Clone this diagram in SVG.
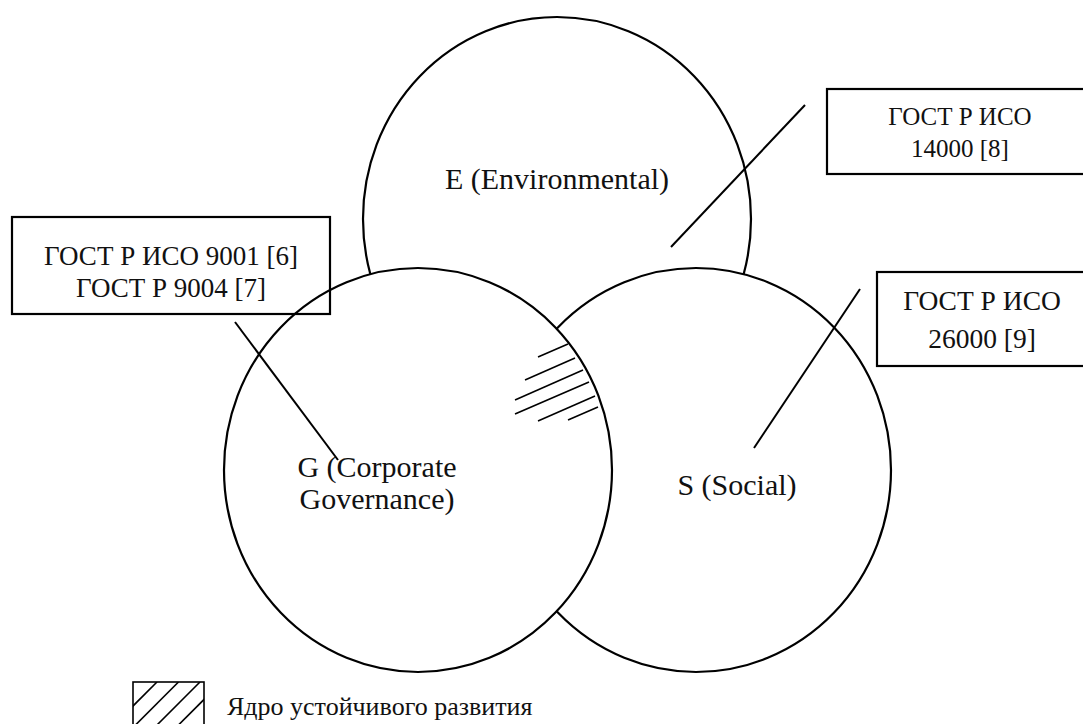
<svg xmlns="http://www.w3.org/2000/svg" width="1083" height="724" viewBox="0 0 1083 724" font-family="'Liberation Serif', 'Times New Roman', serif">
<style>
.c{fill:#fff;stroke:#000;stroke-width:2.2}
.b{fill:none;stroke:#000;stroke-width:2.2}
.l{stroke:#000;stroke-width:2;fill:none}
.h{stroke:#000;stroke-width:1.6;fill:none}
text{font-family:'Liberation Serif','Times New Roman',serif;fill:#111;text-anchor:middle}
</style>
<defs>
<clipPath id="lg"><rect x="133" y="682" width="71" height="60"/></clipPath>
</defs>
<rect width="1083" height="724" fill="#fff"/>
<g id="node-E">
<ellipse class="c" cx="557" cy="219" rx="194" ry="202"/>
<text x="557" y="189" font-size="30" font-family="Liberation Serif">E (Environmental)</text>
</g>
<g id="node-S">
<ellipse class="c" cx="696" cy="470" rx="195" ry="202"/>
<text x="737" y="495" font-size="30" font-family="Liberation Serif">S (Social)</text>
</g>
<g id="node-G">
<ellipse class="c" cx="418" cy="470" rx="194" ry="202"/>
<text x="377" y="477" font-size="30" font-family="Liberation Serif">G (Corporate</text>
<text x="377" y="509" font-size="30" font-family="Liberation Serif">Governance)</text>
</g>
<g id="core-hatch">
<line class="h" x1="538" y1="357" x2="568" y2="344"/>
<line class="h" x1="525" y1="380" x2="575" y2="358"/>
<line class="h" x1="515" y1="400" x2="583" y2="370"/>
<line class="h" x1="515" y1="414" x2="589" y2="382"/>
<line class="h" x1="538" y1="421" x2="595" y2="396"/>
<line class="h" x1="568" y1="420" x2="598" y2="407"/>
</g>
<g id="box-gost-9001">
<rect class="b" x="12" y="217" width="318" height="97"/>
<text x="171" y="265" font-size="27" font-family="Liberation Serif">ГОСТ Р ИСО 9001 [6]</text>
<text x="171" y="297" font-size="27" font-family="Liberation Serif">ГОСТ Р 9004 [7]</text>
</g>
<g id="box-gost-14000">
<rect class="b" x="827" y="89" width="270" height="85"/>
<text x="960" y="125" font-size="25" font-family="Liberation Serif">ГОСТ Р ИСО</text>
<text x="960" y="157" font-size="25" font-family="Liberation Serif">14000 [8]</text>
</g>
<g id="box-gost-26000">
<rect class="b" x="877" y="272" width="220" height="94"/>
<text x="982" y="310" font-size="27.5" font-family="Liberation Serif">ГОСТ Р ИСО</text>
<text x="982" y="348" font-size="27.5" font-family="Liberation Serif">26000 [9]</text>
</g>
<g id="connectors">
<line class="l" x1="235" y1="322" x2="338" y2="460"/>
<line class="l" x1="671" y1="247" x2="805" y2="105"/>
<line class="l" x1="860" y1="289" x2="754" y2="448"/>
</g>
<g id="legend">
<rect class="h" x="133" y="682" width="71" height="60"/>
<g clip-path="url(#lg)">
<line class="h" x1="97" y1="742" x2="157" y2="682"/>
<line class="h" x1="118.5" y1="742" x2="178.5" y2="682"/>
<line class="h" x1="140" y1="742" x2="200" y2="682"/>
<line class="h" x1="161.5" y1="742" x2="221.5" y2="682"/>
</g>
<text x="227" y="715" font-size="26" font-family="Liberation Serif" style="text-anchor:start">Ядро устойчивого развития</text>
</g>
</svg>
